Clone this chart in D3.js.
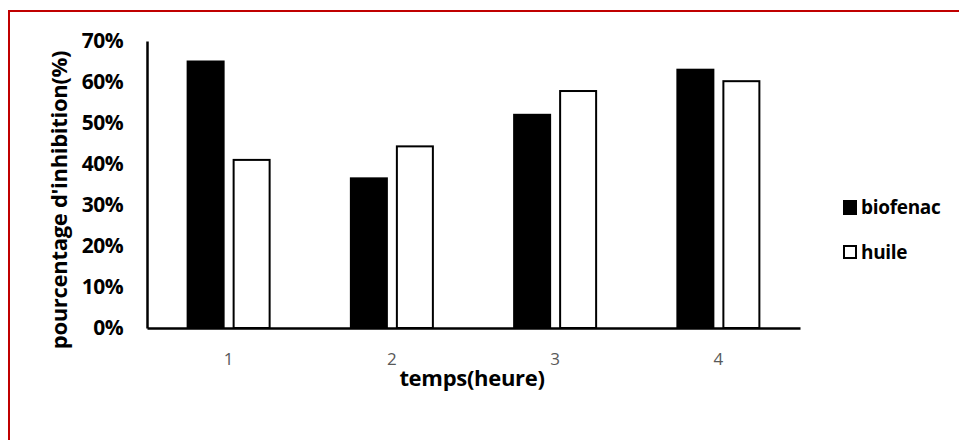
<!DOCTYPE html>
<html>
<head>
<meta charset="utf-8">
<script src="https://cdn.jsdelivr.net/npm/d3@7"></script>
<style>
  html, body { margin: 0; padding: 0; background: #fff; }
  svg { display: block; }
</style>
</head>
<body>
<svg id="chart" width="959" height="440"></svg>
<script>
// Inhibition percentage per hour, two treatments
const categories = ["1", "2", "3", "4"];
const seriesNames = ["biofenac", "huile"];
const biofenac = [0.65, 0.365, 0.52, 0.63];
const huile = [0.41, 0.443, 0.578, 0.602];
const yTicks = [0, 0.1, 0.2, 0.3, 0.4, 0.5, 0.6, 0.7];

const svg = d3.select("#chart");
const font = "'Open Sans', Lato, sans-serif";

// Frame (top and left edges inside the canvas)
svg.append("path")
  .attr("d", "M9,440 V11 H959")
  .attr("fill", "none").attr("stroke", "#c00000").attr("stroke-width", 2);

const plot = { left: 147, right: 800, top: 41, bottom: 328 };

const x = d3.scaleBand().domain(categories).range([plot.left, plot.right]);
const y = d3.scaleLinear().domain([0, 0.7]).range([plot.bottom, plot.top]);

// Bars
const barW = 36, gap = 10;
const rows = categories.map((c, i) => ({ c, vals: [biofenac[i], huile[i]] }));
const g = svg.append("g");
rows.forEach(r => {
  const cx = x(r.c) + x.bandwidth() / 2;
  r.vals.forEach((v, k) => {
    const x0 = k === 0 ? cx - gap / 2 - barW : cx + gap / 2;
    g.append("rect")
      .attr("x", x0).attr("y", y(v))
      .attr("width", barW).attr("height", y(0) - y(v))
      .attr("fill", k === 0 ? "#000" : "#fff")
      .attr("stroke", "#000").attr("stroke-width", 2);
  });
});

// Y axis
const yAxis = svg.append("g")
  .attr("transform", `translate(${plot.left},0)`)
  .call(d3.axisLeft(y).tickValues(yTicks).tickFormat(d3.format(".0%")).tickSize(0).tickPadding(24));
yAxis.select(".domain").attr("stroke", "#000").attr("stroke-width", 2.5);
yAxis.selectAll("text")
  .attr("font-family", font).attr("font-weight", "bold")
  .attr("font-size", 21).attr("letter-spacing", -0.6).attr("fill", "#000");

// X axis
const xAxis = svg.append("g")
  .attr("transform", `translate(0,${plot.bottom})`)
  .call(d3.axisBottom(x).tickSize(0).tickPadding(25));
xAxis.select(".domain").attr("stroke", "#000").attr("stroke-width", 2.5);
xAxis.selectAll("text")
  .attr("font-family", font).attr("font-size", 17).attr("fill", "#595959");

// Axis titles
svg.append("text")
  .attr("x", 472).attr("y", 386)
  .attr("text-anchor", "middle")
  .attr("font-family", font).attr("font-weight", "bold").attr("font-size", 22)
  .attr("letter-spacing", -0.3)
  .text("temps(heure)");

svg.append("text")
  .attr("transform", "translate(67,200) rotate(-90)")
  .attr("text-anchor", "middle")
  .attr("font-family", font).attr("font-weight", "bold").attr("font-size", 22)
  .attr("letter-spacing", -0.3)
  .text("pourcentage d'inhibition(%)");

// Legend
const legend = svg.append("g").attr("transform", "translate(843,200)");
seriesNames.forEach((name, i) => {
  const row = legend.append("g").attr("transform", `translate(0,${i * 45})`);
  if (i === 0) {
    row.append("rect")
      .attr("x", 0).attr("y", 0).attr("width", 14).attr("height", 15)
      .attr("fill", "#000");
  } else {
    row.append("rect")
      .attr("x", 1).attr("y", 1).attr("width", 12).attr("height", 12)
      .attr("fill", "#fff").attr("stroke", "#000").attr("stroke-width", 2);
  }
  row.append("text")
    .attr("x", 18).attr("y", 14)
    .attr("font-family", font).attr("font-weight", "bold").attr("font-size", 19)
    .attr("letter-spacing", -0.3)
    .text(name);
});
</script>
</body>
</html>
